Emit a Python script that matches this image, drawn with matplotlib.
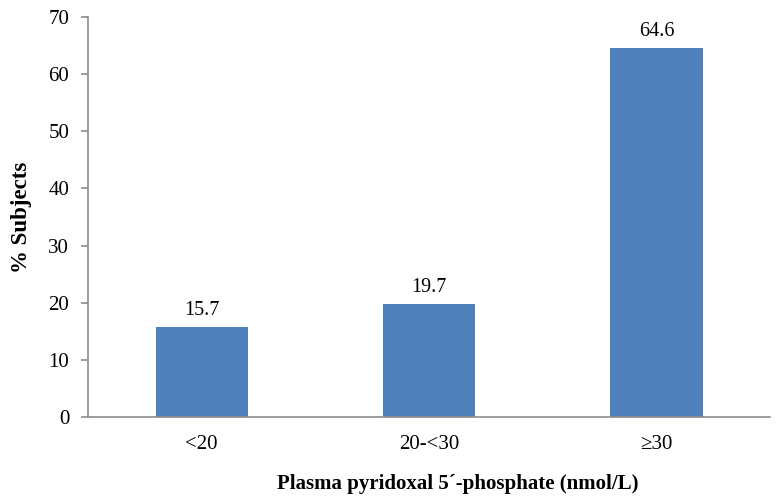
import matplotlib
matplotlib.use("Agg")
import matplotlib.pyplot as plt

categories = ["<20", "20-<30", "\u226530"]
values = [15.7, 19.7, 64.6]
yticks = [0, 10, 20, 30, 40, 50, 60, 70]

plt.rcParams['font.family'] = ['Liberation Serif', 'DejaVu Serif']

fig = plt.figure(figsize=(7.77, 5.0), dpi=100)
ax = fig.add_axes([0.1133, 0.166, 0.878, 0.800])

x = list(range(len(categories)))
bars = ax.bar(x, values, width=0.405, color="#4F81BD")
for xi, v in zip(x, values):
    ax.text(xi, v + 2.1, f"{v:.1f}", ha="center", va="baseline", fontsize=14.5)

ax.set_xlim(-0.5, 2.5)
ax.set_ylim(0, 70)
ax.set_yticks(yticks)
ax.set_xticks(x)
ax.set_xticklabels(categories, fontsize=15)
ax.tick_params(axis="y", labelsize=15, length=5, width=1.2, color="#8c8c8c", pad=8.5)
ax.tick_params(axis="x", length=0, pad=13)
for s in ["top", "right"]:
    ax.spines[s].set_visible(False)
for s in ["left", "bottom"]:
    ax.spines[s].set_color("#8c8c8c")
    ax.spines[s].set_linewidth(1.2)

ax.set_ylabel("% Subjects", fontsize=16.5, fontweight="bold", va="center")
ax.yaxis.set_label_coords(-0.097, 0.5)
ax.set_xlabel("Plasma pyridoxal 5\u00b4-phosphate (nmol/L)", fontsize=15, fontweight="bold", va="center")
ax.xaxis.set_label_coords(0.5425, -0.168)

fig.savefig("out.png", dpi=100)
